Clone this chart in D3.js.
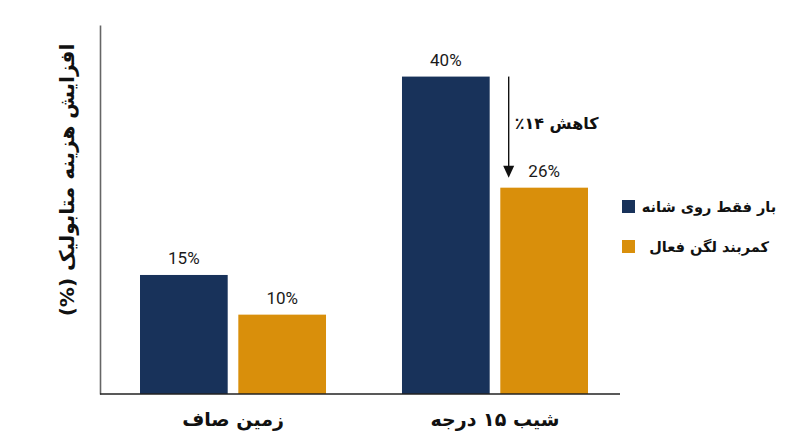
<!DOCTYPE html>
<html>
<head>
<meta charset="utf-8">
<script src="https://cdn.jsdelivr.net/npm/d3@7"></script>
<style>
  body { margin: 0; background: #fff; }
  svg { display: block; }
  .fa { direction: rtl; unicode-bidi: embed; }
</style>
</head>
<body>
<div id="chart"></div>
<script>
// chart data
var categories = ["زمین صاف", "شیب ۱۵ درجه"];
var seriesNames = ["بار فقط روی شانه", "کمربند لگن فعال"];
var shoulderOnly = [15, 40];
var hipBelt = [10, 26];
var yTitle = "افزایش هزینه متابولیک (%)";
var dropLabel = "کاهش ۱۴٪";

var colors = ["#18325a", "#d98f0b"];
var faFont = "'DejaVu Sans', sans-serif";

var svgWidth = 800;
var svgHeight = 447;

var svg = d3.select("#chart")
    .append("svg")
    .attr("width", svgWidth)
    .attr("height", svgHeight);

// build rows for grouped bars
var rows = categories.map(function(c, i) {
    return { cat: c, values: [shoulderOnly[i], hipBelt[i]] };
});

// scales
var x0 = d3.scaleBand()
    .domain(categories)
    .range([140, 588])
    .paddingInner(0.29)
    .paddingOuter(0);

var x1 = d3.scaleBand()
    .domain([0, 1])
    .range([0, x0.bandwidth()])
    .paddingInner(0.108);

var y = d3.scaleLinear()
    .domain([0, 46.5])
    .range([394, 25]);

// y axis line only
svg.append("g")
    .attr("transform", "translate(100,0)")
    .call(d3.axisLeft(y).ticks(0).tickSizeOuter(0))
    .call(function(g) {
        g.select(".domain").attr("stroke", "#666").attr("stroke-width", 1.6);
    });

// bars
var groups = svg.selectAll(".grp")
    .data(rows)
    .enter()
    .append("g")
    .attr("class", "grp")
    .attr("transform", d => `translate(${x0(d.cat)},0)`);

groups.selectAll("rect")
    .data(d => d.values.map((v, i) => ({ i: i, v: v })))
    .enter()
    .append("rect")
    .attr("x", d => x1(d.i))
    .attr("y", d => y(d.v))
    .attr("width", x1.bandwidth())
    .attr("height", d => y(0) - y(d.v))
    .attr("fill", d => colors[d.i]);

// value labels
groups.selectAll("text.val")
    .data(d => d.values.map((v, i) => ({ i: i, v: v })))
    .enter()
    .append("text")
    .attr("class", "val")
    .attr("x", d => x1(d.i) + x1.bandwidth() / 2)
    .attr("y", d => y(d.v) - 11)
    .attr("text-anchor", "middle")
    .attr("font-family", "Roboto, sans-serif")
    .attr("font-size", "17px")
    .attr("fill", "#1a1a1a")
    .text(d => d.v + "%");

// x axis line
svg.append("line")
    .attr("x1", 100)
    .attr("x2", 620)
    .attr("y1", y(0))
    .attr("y2", y(0))
    .attr("stroke", "#222")
    .attr("stroke-width", 1.6);

// category labels
svg.selectAll("text.cat")
    .data(categories)
    .enter()
    .append("text")
    .attr("class", "cat fa")
    .attr("x", d => x0(d) + x0.bandwidth() / 2)
    .attr("y", 419)
    .attr("dy", "0.35em")
    .attr("text-anchor", "middle")
    .attr("font-family", faFont)
    .attr("font-weight", "bold")
    .attr("font-size", "19px")
    .attr("fill", "#111")
    .text(d => d);

// y axis title
svg.append("text")
    .attr("class", "fa")
    .attr("transform", "translate(67,180) rotate(-90)")
    .attr("dy", "0.35em")
    .attr("text-anchor", "middle")
    .attr("font-family", faFont)
    .attr("font-weight", "bold")
    .attr("font-size", "20px")
    .attr("fill", "#111")
    .text(yTitle);

// drop arrow between the slope bars
var slope = categories[1];
var arrowX = x0(slope) + x1(0) + x1.bandwidth() + 19;
var arrowTop = y(shoulderOnly[1]);
var arrowTip = y(hipBelt[1]) - 10;

svg.append("line")
    .attr("x1", arrowX)
    .attr("x2", arrowX)
    .attr("y1", arrowTop)
    .attr("y2", arrowTip - 10)
    .attr("stroke", "#111")
    .attr("stroke-width", 1.4);

svg.append("path")
    .attr("d", `M${arrowX - 5.5},${arrowTip - 12}L${arrowX + 5.5},${arrowTip - 12}L${arrowX},${arrowTip}Z`)
    .attr("fill", "#111");

svg.append("text")
    .attr("class", "fa")
    .attr("x", arrowX + 48)
    .attr("y", (arrowTop + arrowTip) / 2 - 4)
    .attr("dy", "0.35em")
    .attr("text-anchor", "middle")
    .attr("font-family", faFont)
    .attr("font-weight", "bold")
    .attr("font-size", "16px")
    .attr("fill", "#111")
    .text(dropLabel);

// legend
var legend = svg.selectAll(".leg")
    .data(seriesNames)
    .enter()
    .append("g")
    .attr("class", "leg")
    .attr("transform", (d, i) => `translate(622,${200 + i * 40})`);

legend.append("rect")
    .attr("width", 13)
    .attr("height", 13)
    .attr("fill", (d, i) => colors[i]);

legend.append("text")
    .attr("class", "fa")
    .attr("x", 87)
    .attr("y", 7)
    .attr("dy", "0.35em")
    .attr("text-anchor", "middle")
    .attr("font-family", faFont)
    .attr("font-weight", "bold")
    .attr("font-size", "14.5px")
    .attr("fill", "#111")
    .text(d => d);
</script>
</body>
</html>
